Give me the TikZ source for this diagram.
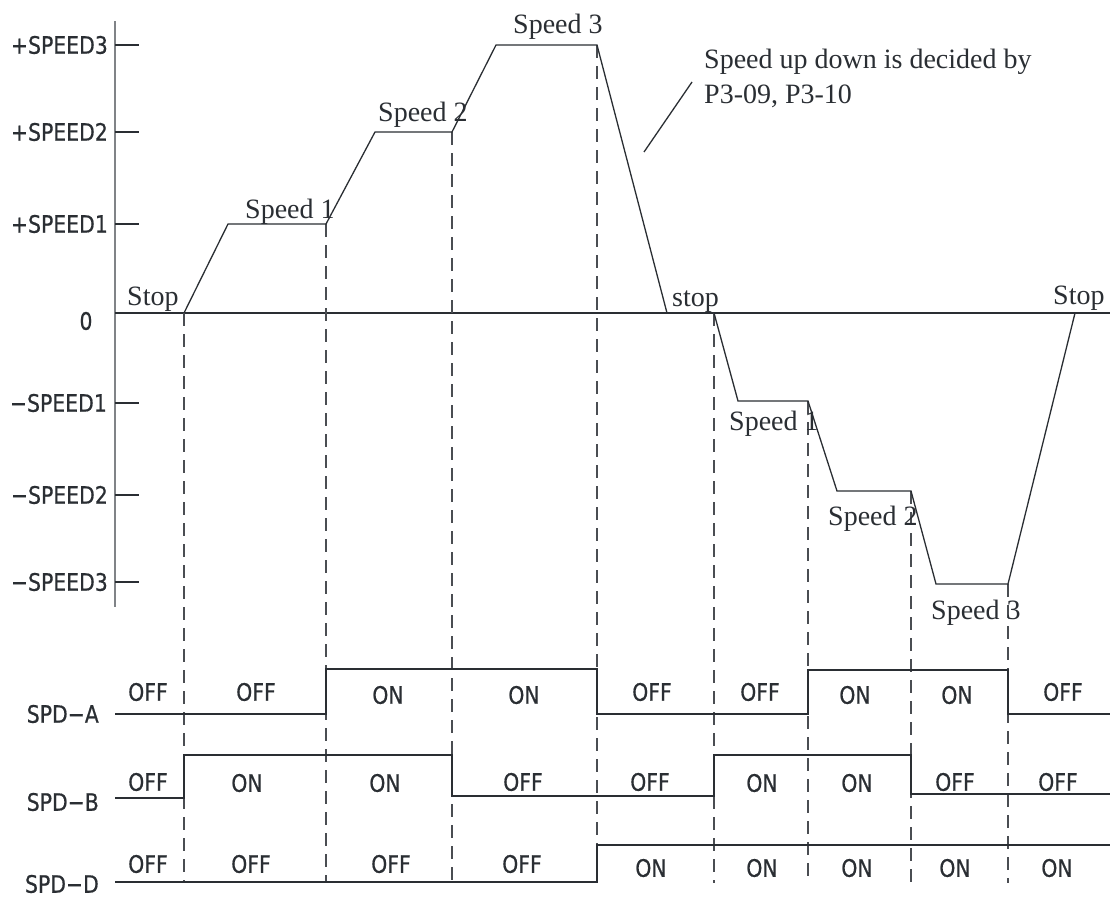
\documentclass[tikz,border=0pt]{standalone}
\usepackage{fontspec}
\usepackage{xcolor}
\usepackage{tikz}
\setmainfont{Liberation Serif}
\newfontfamily\heifont[FakeStretch=0.85, FakeBold=0.6]{DejaVu Sans}
\definecolor{ink}{HTML}{2A2E33}
\definecolor{axisgray}{HTML}{808387}

\tikzset{
  wave/.style={draw=ink, line width=1.3pt},
  guide/.style={draw=ink!85, line width=1.1pt, dash pattern=on 13pt off 8pt},
  axisline/.style={draw=axisgray, line width=2pt},
  speedtxt/.style={font=\fontsize{28}{34}\selectfont, text=ink, inner sep=0pt, anchor=base west},
  statetxt/.style={font=\heifont\fontsize{24}{28}\selectfont, text=ink, inner sep=0pt},
  leveltxt/.style={statetxt, anchor=east}
}

\begin{document}
\begin{tikzpicture}[x=1pt, y=-1pt]
    \useasboundingbox (0,0) rectangle (1110,897);

    % Axis and zero line
    \draw[axisline] (115,21) -- (115,607);
    \draw[wave] (115,313) -- (1110,313);
    \foreach \y in {45,132,224,403,495,582}
        \draw[wave] (115,\y) -- (139,\y);

    % Level labels
    \node[leveltxt] (lvp3) at (108,45)  {+SPEED3};
    \node[leveltxt] (lvp2) at (108,132) {+SPEED2};
    \node[leveltxt] (lvp1) at (108,224) {+SPEED1};
    \node[statetxt] (lvz)  at (86,321)  {0};
    \node[leveltxt] (lvm1) at (107,403) {−SPEED1};
    \node[leveltxt] (lvm2) at (108,495) {−SPEED2};
    \node[leveltxt] (lvm3) at (108,582) {−SPEED3};

    % Switching instants (dashed)
    \foreach \x/\y in {184/313, 326/224, 452/132, 597/45, 714/313, 808/401, 911/491, 1008/584}
        \draw[guide] (\x,\y) -- (\x,883);

    % Speed profile
    \draw[wave] (184,313) -- (228,224) -- (326,224) -- (375,132) -- (452,132)
        -- (496,45) -- (597,45) -- (667,313);
    \draw[wave] (714,313) -- (738,401) -- (808,401) -- (837,491) -- (911,491)
        -- (936,584) -- (1008,584) -- (1075,313);

    % Profile labels
    \node[speedtxt] (stop1) at (127,305)  {Stop};
    \node[speedtxt] (sp1)   at (245,218)  {Speed 1};
    \node[speedtxt] (sp2)   at (378,121)  {Speed 2};
    \node[speedtxt] (sp3)   at (513,33)   {Speed 3};
    \node[speedtxt] (stop2) at (672,306)  {stop};
    \node[speedtxt] (stop3) at (1053,304) {Stop};
    \node[speedtxt] (sn1)   at (729,430)  {Speed 1};
    \node[speedtxt] (sn2)   at (828,525)  {Speed 2};
    \node[speedtxt] (sn3)   at (931,619)  {Speed 3};

    % Note with leader
    \node[speedtxt] (note1) at (704,68)  {Speed up down is decided by};
    \node[speedtxt] (note2) at (704,103) {P3-09, P3-10};
    \coordinate (leadlow) at (644,152);
    \coordinate (leadhigh) at (692,82);
    \draw[wave] (leadlow) -- (leadhigh);

    % Signals
    \node[leveltxt] (sigA) at (99,714) {SPD−A};
    \node[leveltxt] (sigB) at (99,802) {SPD−B};
    \node[leveltxt] (sigD) at (99,884) {SPD−D};
    \draw[wave] (115,714) -- (326,714) -- (326,669) -- (597,669) -- (597,714)
        -- (808,714) -- (808,670) -- (1008,670) -- (1008,714) -- (1110,714);
    \draw[wave] (115,798) -- (184,798) -- (184,755) -- (452,755) -- (452,796)
        -- (714,796) -- (714,755) -- (911,755) -- (911,794) -- (1110,794);
    \draw[wave] (115,882) -- (597,882) -- (597,845) -- (1110,845);

    % States
    \foreach \x/\y/\t [count=\i] in {148/692/OFF, 256/692/OFF, 388/695/ON, 524/695/ON, 652/692/OFF,
        760/692/OFF, 855/695/ON, 957/695/ON, 1063/692/OFF}
        \node[statetxt] (stA\i) at (\x,\y) {\t};
    \foreach \x/\y/\t [count=\i] in {148/782/OFF, 247/783/ON, 385/783/ON, 523/782/OFF, 650/782/OFF,
        762/783/ON, 857/783/ON, 955/782/OFF, 1058/782/OFF}
        \node[statetxt] (stB\i) at (\x,\y) {\t};
    \foreach \x/\y/\t [count=\i] in {148/864/OFF, 251/864/OFF, 391/864/OFF, 522/864/OFF, 651/868/ON,
        762/868/ON, 857/868/ON, 955/868/ON, 1057/868/ON}
        \node[statetxt] (stD\i) at (\x,\y) {\t};
\end{tikzpicture}
\end{document}
